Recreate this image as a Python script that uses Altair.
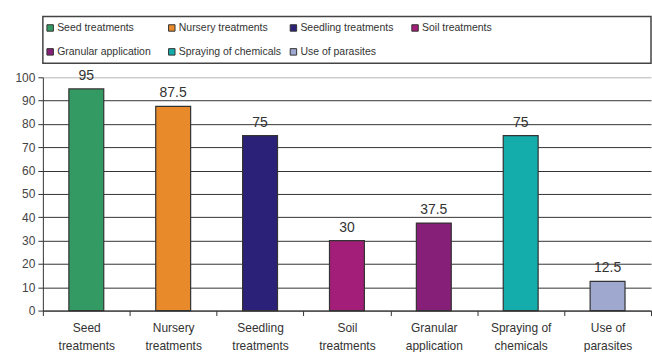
import json

import altair as alt
import pandas as pd

# Share of farmers using each control method (%)
categories = [
    "Seed treatments",
    "Nursery treatments",
    "Seedling treatments",
    "Soil treatments",
    "Granular application",
    "Spraying of chemicals",
    "Use of parasites",
]
values = [95, 87.5, 75, 30, 37.5, 75, 12.5]
colors = ["#349a64", "#e8892a", "#2b2178", "#a31e78", "#861f78", "#14adab", "#9fa9d0"]

# Two-line tick labels under each bar
axis_lines = [
    ["Seed", "treatments"],
    ["Nursery", "treatments"],
    ["Seedling", "treatments"],
    ["Soil", "treatments"],
    ["Granular", "application"],
    ["Spraying of", "chemicals"],
    ["Use of", "parasites"],
]
y_ticks = list(range(0, 101, 10))
legend_columns = 4

df = pd.DataFrame({
    "category": categories,
    "value": values,
    "col": [i % legend_columns for i in range(len(categories))],
    "row": [i // legend_columns for i in range(len(categories))],
})

label_map = "{" + ",".join(
    f"{json.dumps(c)}:{json.dumps(l)}" for c, l in zip(categories, axis_lines)
) + "}"

FONT = "Liberation Sans"
color_scale = alt.Scale(domain=categories, range=colors)

# ---- bar panel ----
base = alt.Chart(df).encode(
    x=alt.X(
        "category:N",
        sort=categories,
        scale=alt.Scale(paddingInner=0, paddingOuter=0),
        axis=alt.Axis(
            title=None,
            labelAngle=0,
            tickBand="extent",
            labelExpr=f"{label_map}[datum.value]",
            labelFontSize=12,
            labelColor="#333333",
            labelLineHeight=18,
            labelPadding=7,
            tickSize=5,
            tickColor="#333333",
            domainColor="#333333",
            grid=False,
        ),
    ),
    y=alt.Y(
        "value:Q",
        scale=alt.Scale(domain=[0, 100], nice=False),
        axis=alt.Axis(
            title=None,
            values=y_ticks,
            labelFontSize=12,
            labelColor="#444444",
            labelPadding=3,
            tickSize=5,
            tickColor="#333333",
            domainColor="#333333",
            gridColor={"condition": {"test": "datum.value === 100", "value": "#b5b5b5"},
                       "value": "#333333"},
            gridWidth=1,
        ),
    ),
)

bars = base.mark_bar(width=35, stroke="#333333", strokeWidth=1.2).encode(
    color=alt.Color("category:N", scale=color_scale, legend=None)
)
value_labels = base.mark_text(
    dy=-6, baseline="bottom", fontSize=14, color="#333333"
).encode(text=alt.Text("value:Q"))

bar_panel = (bars + value_labels).properties(
    width=610, height=234, view=alt.ViewBackground(stroke="transparent")
)

# ---- legend panel (boxed, 4 columns x 2 rows) ----
legend_base = alt.Chart(df).encode(
    x=alt.X("col:Q", scale=alt.Scale(domain=[-0.06, 4.94]), axis=None),
    y=alt.Y("row:O", scale=alt.Scale(type="point", padding=0.48), axis=None),
)
legend_symbols = legend_base.mark_square(
    size=42, stroke="#333333", strokeWidth=1, opacity=1
).encode(color=alt.Color("category:N", scale=color_scale, legend=None))
legend_text = legend_base.mark_text(
    align="left", baseline="middle", dx=7, fontSize=10.5, color="#333333"
).encode(text="category:N")

legend_panel = (legend_symbols + legend_text).properties(
    width=610, height=47, view=alt.ViewBackground(stroke="#444444", strokeWidth=1.5)
)

chart = alt.vconcat(
    legend_panel, bar_panel, spacing=14, bounds="flush"
).properties(
    padding={"left": 14, "top": 15, "right": 0, "bottom": 0},
    background="white",
).configure(
    font=FONT,
)

chart.save("out.html", embed_options={"renderer": "svg", "actions": False})
